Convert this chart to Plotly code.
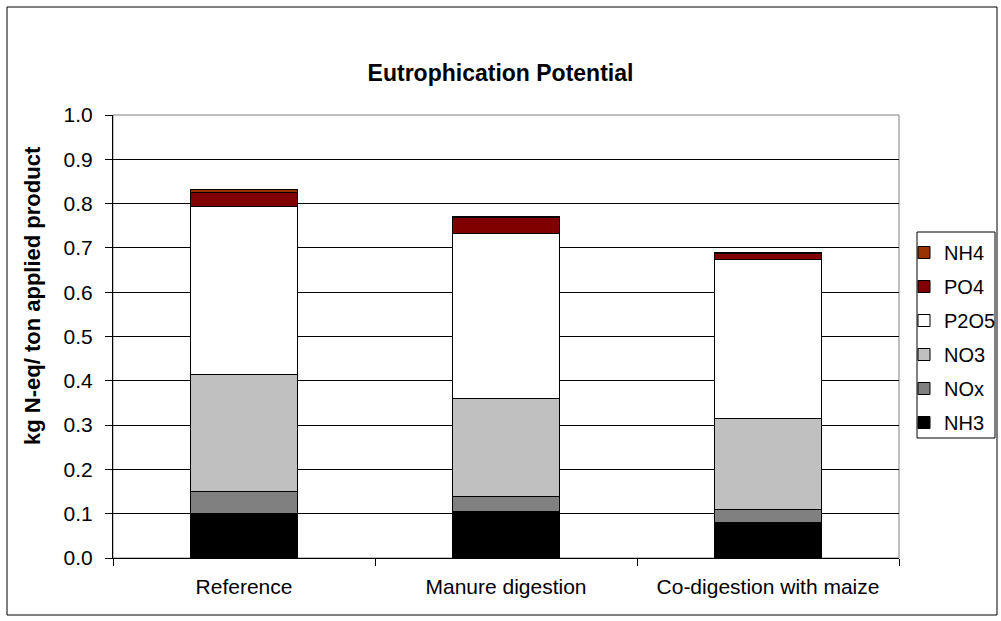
import plotly.graph_objects as go

# Scenarios along the x axis
categories = ["Reference", "Manure digestion", "Co-digestion with maize"]

# Stacked contributions, kg N-eq per ton applied product (bottom to top)
nh3 = [0.100, 0.105, 0.080]
nox = [0.049, 0.033, 0.029]
no3 = [0.266, 0.223, 0.207]
p2o5 = [0.378, 0.372, 0.357]
po4 = [0.032, 0.036, 0.015]
nh4 = [0.006, 0.001, 0.001]

y_ticks = [0.0, 0.1, 0.2, 0.3, 0.4, 0.5, 0.6, 0.7, 0.8, 0.9, 1.0]

series = [
    ("NH3", nh3, "#000000"),
    ("NOx", nox, "#808080"),
    ("NO3", no3, "#C0C0C0"),
    ("P2O5", p2o5, "#FFFFFF"),
    ("PO4", po4, "#800000"),
    ("NH4", nh4, "#993300"),
]

FONT = "Arial, Liberation Sans, sans-serif"

fig = go.Figure()
for i, (name, vals, color) in enumerate(series):
    fig.add_trace(go.Bar(
        name=name,
        x=categories,
        y=vals,
        legendgroup=name,
        legendrank=len(series) - i,
        marker=dict(color=color, line=dict(color="#000000", width=1)),
    ))

# plot area in pixels: x 113..899, y 115..558
L, R, T, B = 113, 1001 - 899, 115, 621 - 558
W, H = 1001 - L - R, 621 - T - B


def px_x(p):
    return (p - L) / W


def px_y(p):
    return (621 - B - p) / H


fig.update_layout(
    width=1001,
    height=621,
    margin=dict(l=L, r=R, t=T, b=B, pad=0, autoexpand=False),
    barmode="stack",
    bargap=0.595,
    paper_bgcolor="#FFFFFF",
    plot_bgcolor="#FFFFFF",
    font=dict(family=FONT, size=20, color="#000000"),
    title=dict(
        text="<b>Eutrophication Potential</b>",
        font=dict(family=FONT, size=23, color="#000000"),
        x=0.5, xref="container", xanchor="center",
        y=1 - 73 / 621, yref="container", yanchor="middle",
    ),
    showlegend=True,
    legend=dict(
        traceorder="grouped",
        tracegroupgap=5,
        x=px_x(904), xanchor="left",
        y=px_y(233), yanchor="top",
        borderwidth=0,
        bgcolor="rgba(0,0,0,0)",
        font=dict(family=FONT, size=20, color="#000000"),
        itemclick=False,
        itemwidth=30,
    ),
    xaxis=dict(
        showline=True,
        linecolor="#000000",
        linewidth=1,
        ticks="outside",
        tickson="boundaries",
        ticklen=7,
        tickcolor="#000000",
        showgrid=False,
        tickfont=dict(family=FONT, size=21),
        ticklabelstandoff=10,
    ),
    yaxis=dict(
        range=[0, 1.0],
        tickvals=y_ticks,
        ticktext=[f"{v:.1f}" for v in y_ticks],
        showline=True,
        linecolor="#000000",
        linewidth=1,
        ticks="outside",
        ticklen=7,
        tickcolor="#000000",
        showgrid=True,
        gridcolor="#000000",
        gridwidth=1,
        zeroline=False,
        tickfont=dict(family=FONT, size=21),
        ticklabelstandoff=8,
    ),
    annotations=[
        dict(
            text="<b>kg N-eq/ ton applied product</b>",
            textangle=-90,
            xref="paper", yref="paper",
            x=px_x(32), y=px_y(296),
            xanchor="center", yanchor="middle",
            showarrow=False,
            font=dict(family=FONT, size=22, color="#000000"),
        ),
    ],
    shapes=[
        # grey plot-area frame
        dict(type="rect", xref="paper", yref="paper", x0=0, x1=1, y0=0, y1=1,
             line=dict(color="#808080", width=1), layer="below"),
        # legend frame
        dict(type="rect", xref="paper", yref="paper",
             x0=px_x(917), x1=px_x(995), y0=px_y(438), y1=px_y(232),
             line=dict(color="#000000", width=1)),
        # outer chart border
        dict(type="rect", xref="paper", yref="paper",
             x0=px_x(7), x1=px_x(997), y0=px_y(615), y1=px_y(7),
             line=dict(color="#000000", width=1)),
    ],
)

fig.write_html("out.html")
